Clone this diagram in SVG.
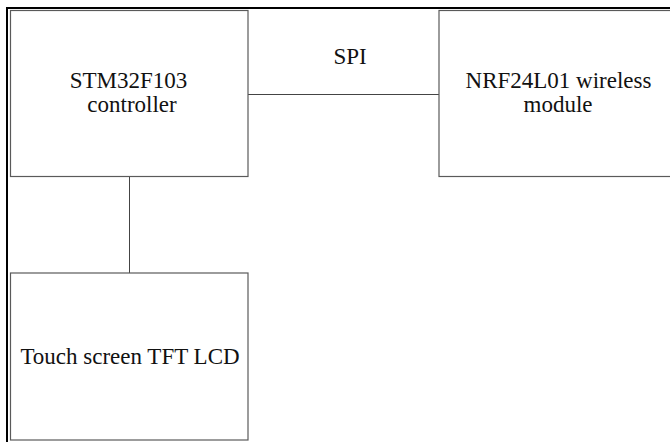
<svg xmlns="http://www.w3.org/2000/svg" width="670" height="442" viewBox="0 0 670 442">
<style>
.box{fill:#fff;stroke:#5a5a5a;stroke-width:1.2}
.conn{stroke:#444;stroke-width:1;fill:none}
.frame{stroke:#000;stroke-width:2;fill:none}
.t{font-size:23px;fill:#111;text-anchor:middle}
</style>
<rect width="670" height="442" fill="#fff"/>
<path class="frame" d="M7 442 V8 H670"/>
<g font-family="Liberation Serif">
<g id="connectors">
<line class="conn" x1="248" y1="94.5" x2="439" y2="94.5"/>
<line class="conn" x1="129.5" y1="177" x2="129.5" y2="273"/>
<text class="t" x="350" y="64">SPI</text>
</g>
<g id="controller">
<rect class="box" x="10.5" y="10.5" width="237.5" height="166"/>
<text class="t" x="128.5" y="88">STM32F103</text>
<text class="t" x="132" y="112">controller</text>
</g>
<g id="nrf">
<rect class="box" x="439" y="10.5" width="245" height="166"/>
<text class="t" x="558.5" y="88">NRF24L01 wireless</text>
<text class="t" x="558" y="112">module</text>
</g>
<g id="lcd">
<rect class="box" x="10.5" y="273" width="237.5" height="167"/>
<text class="t" x="130" y="364">Touch screen TFT LCD</text>
</g>
</g>
</svg>
